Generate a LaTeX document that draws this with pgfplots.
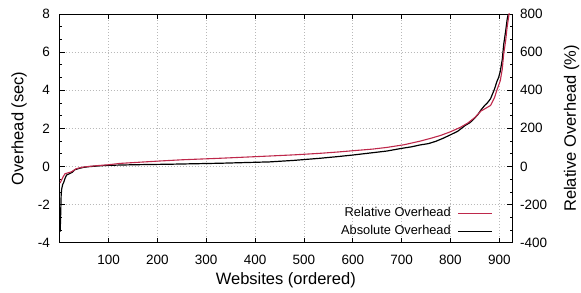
\documentclass[border=0pt]{standalone}
\usepackage{pgfplots}
\pgfplotsset{compat=1.18}
\usepackage{pgfplotstable}
\usepackage{fontspec}
\setmainfont{Liberation Sans}
\definecolor{relred}{RGB}{190,40,75}

\pgfplotstableread{
x y
1 -3.42
2 -2.5
3 -1.5
4 -1.2
6 -0.95
8 -0.85
11 -0.62
14 -0.45
20 -0.38
26 -0.3
31 -0.17
40 -0.1
48 -0.05
60 -0.01
80 0.03
100 0.06
150 0.09
230 0.12
330 0.17
430 0.24
480 0.32
533 0.43
570 0.52
600 0.6
640 0.72
670 0.81
700 0.95
720 1.03
738 1.13
755 1.2
770 1.32
785 1.48
800 1.66
815 1.85
830 2.15
840 2.3
850 2.55
856 2.72
862 2.95
870 3.2
876 3.35
882 3.55
886 3.8
890 4.05
895 4.45
899 4.7
902 5.0
906 5.6
909 6.4
913 7.1
916 7.7
919 8.1
922 9.0
}\absdata

\pgfplotstableread{
x y
1 -87
3 -75
5 -65
8 -50
11 -38
16 -34
22 -30
28 -22
33 -13
42 -6
52 -2
75 4
100 9
123 16
200 28
250 35
328 43
431 55
480 61
533 69
570 76
602 83
640 91
670 100
705 114
738 133
760 148
780 163
800 182
820 205
835 227
850 257
862 290
872 305
882 320
890 360
895 400
902 450
906 510
909 590
913 660
916 730
920 800
923 900
}\reldata

\begin{document}
\begin{tikzpicture}
\path[use as bounding box] (-59.7pt,-49.3pt) rectangle (521.3pt,242.7pt);
\pgfplotsset{
  common/.style={
    scale only axis, width=452.3pt, height=228.7pt,
    xmin=0, xmax=926,
    tick align=inside,
    major tick length=5pt, minor tick length=2.5pt,
    every tick/.style={black, line width=0.7pt},
    axis line style={line width=0.9pt, black},
    /pgf/number format/assume math mode=true,
    tick label style={font=\fontsize{13.5}{16}\selectfont, inner sep=0pt},
  }
}
\begin{axis}[common,
  ymin=-4, ymax=8,
  xtick={100,200,...,900}, ytick={-4,-2,...,8},
  minor y tick num=2,
  xtick pos=both, ytick pos=left,
  grid=major,
  major grid style={gray!55, dash pattern=on 1pt off 2pt, line width=0.6pt},
  xticklabel style={yshift=-12pt},
  yticklabel style={xshift=-9.5pt},
  xlabel={Websites (ordered)},
  ylabel={Overhead (sec)},
  every axis x label/.style={at={(axis description cs:0.5,-0.163)}, anchor=center, font=\fontsize{16.5}{19}\selectfont},
  every axis y label/.style={at={(axis description cs:-0.09,0.5)}, anchor=center, rotate=90, font=\fontsize{16.5}{19}\selectfont},
  legend plot pos=right,
  legend cell align=right,
  legend image code/.code={\path (0pt,0pt); \draw[#1, line width=0.9pt] (7pt,0pt) -- (41pt,0pt);},
  legend style={at={(axis description cs:0.958,0.02)}, anchor=south east, draw=none, fill=none,
    inner sep=0pt, row sep=6pt, column sep=0pt,
    font=\fontsize{12.8}{15}\selectfont,
    nodes={inner xsep=0pt, inner ysep=0pt, text height=9pt, text depth=3pt}},
]
\addlegendimage{relred}
\addlegendentry{Relative Overhead}
\addplot[black, line width=1.2pt] table[x=x,y=y] {\absdata};
\addlegendentry{Absolute Overhead}
\end{axis}
\begin{axis}[common,
  ymin=-400, ymax=800,
  axis x line=none, axis y line*=right,
  ytick={-400,-200,...,800},
  minor y tick num=2,
  yticklabel style={xshift=8pt},
  ylabel={Relative Overhead (\%)},
  every axis y label/.style={at={(axis description cs:1.132,0.5)}, anchor=center, rotate=90, font=\fontsize{16.5}{19}\selectfont},
]
\addplot[relred, line width=1.1pt] table[x=x,y=y] {\reldata};
\end{axis}
\end{tikzpicture}
\end{document}
